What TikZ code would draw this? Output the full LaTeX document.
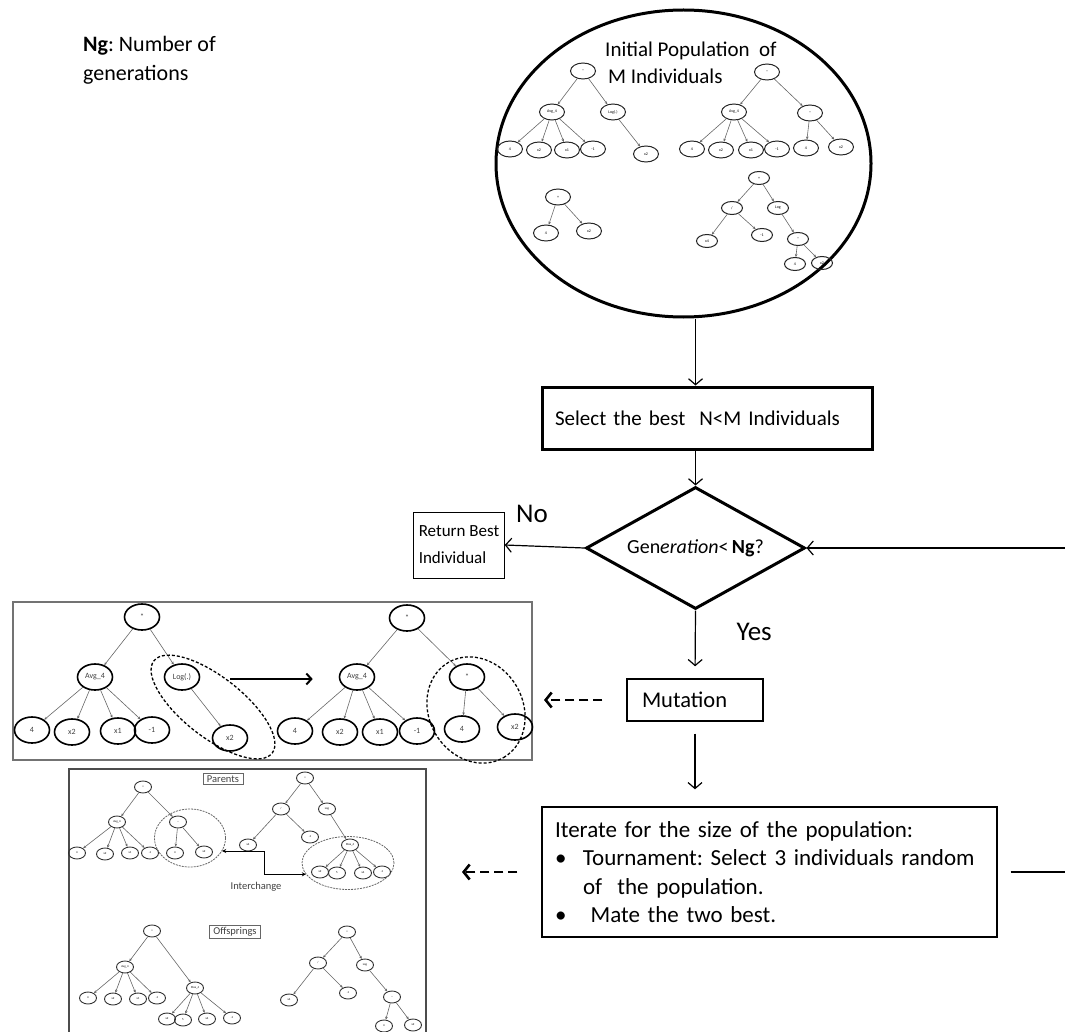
\documentclass[tikz,border=0pt]{standalone}
\usepackage{fontspec}
\setmainfont{Carlito}
\usetikzlibrary{arrows.meta, shapes.geometric, positioning}
\frenchspacing

\begin{document}
\begin{tikzpicture}[
            x=1pt, y=-1pt,
            flow line/.style={line width=1.2pt, -{Straight Barb[length=6pt,width=14pt]}},
            hint line/.style={line width=2.6pt, dash pattern=on 9pt off 5pt, -{Straight Barb[length=6pt,width=15pt]}},
            heavy box/.style={draw, line width=3pt},
            light box/.style={draw, line width=1.4pt},
            main text/.style={font=\fontsize{21}{27}\selectfont},
            pop node/.style={ellipse, draw=black!85, line width=1pt, minimum width=25pt, minimum height=16pt, inner sep=0pt, font=\fontsize{4}{4}\selectfont},
            pop small/.style={pop node, minimum width=21pt, minimum height=13pt},
            mut node/.style={ellipse, draw, line width=1.6pt, minimum width=35pt, minimum height=26pt, inner sep=0pt, font=\fontsize{8}{9}\selectfont, text=black!75},
            xo node/.style={ellipse, draw=black!80, line width=0.9pt, minimum width=17pt, minimum height=12pt, inner sep=0pt, font=\fontsize{3}{3}\selectfont},
            tree edge/.style={draw=black!60, line width=0.6pt, -{Stealth[length=3pt,width=2.6pt]}},
            cut ring/.style={ellipse, draw, line width=1.3pt, dash pattern=on 3pt off 2pt, inner sep=0pt},
            swap ring/.style={ellipse, draw=black!60, line width=0.8pt, dash pattern=on 2pt off 1pt, inner sep=0pt},
            tag box/.style={draw=black!60, line width=0.8pt, inner xsep=4pt, inner ysep=2pt, font=\fontsize{10.5}{11}\selectfont, text=black!75},
        ]

        \useasboundingbox (0,0) rectangle (1065,1032);
        \clip (0,0) rectangle (1065,1032);

        % Legend
        \node[font=\fontsize{22}{29}\selectfont, align=left, anchor=west, inner sep=0pt] (legend) at (83,60) {\textbf{Ng}: Number of\\generations};

        % Initial population
        \node[ellipse, draw, line width=3pt, minimum width=375pt, minimum height=307pt, inner sep=0pt] (pop) at (683.5,163.5) {};
        \node[main text, align=left, anchor=west, inner sep=0pt] (poptitle) at (605,63) {Initial Population\ \ of\\\hspace*{3pt}M Individuals};

        \node[pop node] (pa) at (583,71) {*};
        \node[pop node] (pa1) at (552,112) {Avg\_4};
        \node[pop node] (pa2) at (613,112) {Log(.)};
        \node[pop node] (pa11) at (510,149) {4};
        \node[pop node] (pa12) at (539,150) {x2};
        \node[pop node] (pa13) at (567,150) {x1};
        \node[pop node] (pa14) at (593,149) {-1};
        \node[pop node] (pa21) at (646,154) {x2};

        \node[pop node] (pb) at (767,72) {*};
        \node[pop node] (pb1) at (734,112) {Avg\_4};
        \node[pop node] (pb2) at (810,113) {*};
        \node[pop node] (pb11) at (692,149) {4};
        \node[pop node] (pb12) at (721,150) {x2};
        \node[pop node] (pb13) at (751,150) {x1};
        \node[pop node] (pb14) at (777,149) {-1};
        \node[pop node] (pb21) at (806,148) {4};
        \node[pop node] (pb22) at (841,147) {x2};

        \node[pop node] (pc) at (558,197) {+};
        \node[pop node] (pc1) at (546,233) {4};
        \node[pop node] (pc2) at (589,231) {x2};

        \node[pop small] (pd) at (759,178) {+};
        \node[pop small] (pd1) at (732,208) {/};
        \node[pop small] (pd2) at (778,208) {Log};
        \node[pop small] (pd11) at (707,241) {x4};
        \node[pop small] (pd12) at (762,235) {-1};
        \node[pop small] (pd21) at (798,239) {*};
        \node[pop small] (pd211) at (795,264) {4};
        \node[pop small] (pd212) at (822,263) {x2};

        \foreach \p/\c in {pa/pa1, pa/pa2, pa1/pa11, pa1/pa12, pa1/pa13, pa1/pa14, pa2/pa21,
                pb/pb1, pb/pb2, pb1/pb11, pb1/pb12, pb1/pb13, pb1/pb14, pb2/pb21, pb2/pb22,
                pc/pc1, pc/pc2, pd/pd1, pd/pd2, pd1/pd11, pd1/pd12, pd2/pd21, pd21/pd211, pd21/pd212} {
            \draw[tree edge] (\p) -- (\c);
        }

        % Flow chart
        \node[heavy box, main text, text width=304pt, inner xsep=13pt, minimum height=62pt, align=left] (sel) at (707,418) {Select the best\ \ N<M Individuals};
        \node[diamond, aspect=1.8, draw, line width=3pt, minimum width=219pt, minimum height=122pt, inner sep=0pt, font=\fontsize{20}{24}\selectfont] (dec) at (695.5,548) {Gen\textit{eration}<\,\textbf{Ng}?};
        \node[draw, line width=1pt, minimum width=88pt, inner xsep=5pt, minimum height=66pt, align=left, font=\fontsize{17}{27}\selectfont] (ret) at (459,545) {Return Best\\Individual};
        \node[light box, font=\fontsize{22.5}{26}\selectfont, text width=106pt, inner xsep=15pt, minimum height=42pt, align=left] (mut) at (695,700) {Mutation};
        \node[light box, font=\fontsize{23}{28.5}\selectfont, text width=429pt, inner xsep=13pt, minimum height=130pt, align=left] (itr) at (769.5,872) {Iterate for the size of the population:\\
            \makebox[28pt][l]{\textbullet}Tournament: Select 3 individuals random\\
            \hspace*{28pt}of\ \ the population.\\
            \makebox[28pt][l]{\textbullet}\ Mate the two best.};

        \node[font=\fontsize{27}{30}\selectfont] (nolbl) at (532,514) {No};
        \node[font=\fontsize{27}{30}\selectfont, anchor=west] (yeslbl) at (733,632) {Yes};

        \coordinate (rim) at (1075,0);
        \draw[flow line] (pop.south -| dec) -- (sel.north -| dec);
        \draw[flow line] (sel.south -| dec) -- (dec.north);
        \draw[flow line] (dec.west) -- (ret.east);
        \draw[flow line, shorten >=12pt] (dec.south) -- (mut.north);
        \draw[flow line, shorten <=12pt, shorten >=17pt] (mut.south) -- (itr.north -| mut.south);
        \draw[line width=1.2pt, shorten <=13pt] (itr.east) -- (itr.east -| rim);
        \draw[flow line] (dec.east -| rim) -- (dec.east);

        % Mutation example
        \node[draw=black!55, line width=2pt, minimum width=519pt, minimum height=158pt, inner sep=0pt] (mfig) at (272.5,681) {};

        \node[mut node] (ma) at (142,617) {*};
        \node[mut node] (ma1) at (95,677) {Avg\_4};
        \node[mut node] (ma2) at (182,677) {Log(.)};
        \node[mut node] (ma11) at (32,730) {4};
        \node[mut node] (ma12) at (72,732) {x2};
        \node[mut node] (ma13) at (118,731) {x1};
        \node[mut node] (ma14) at (152,730) {-1};
        \node[mut node] (ma21) at (230,738) {x2};

        \node[mut node] (mb) at (407,618) {*};
        \node[mut node] (mb1) at (357,677) {Avg\_4};
        \node[mut node] (mb2) at (467,677) {*};
        \node[mut node] (mb11) at (295,731) {4};
        \node[mut node] (mb12) at (340,732) {x2};
        \node[mut node] (mb13) at (380,732) {x1};
        \node[mut node] (mb14) at (417,731) {-1};
        \node[mut node] (mb21) at (462,729) {4};
        \node[mut node] (mb22) at (515,727) {x2};

        \foreach \p/\c in {ma/ma1, ma/ma2, ma1/ma11, ma1/ma12, ma1/ma13, ma1/ma14, ma2/ma21,
                mb/mb1, mb/mb2, mb1/mb11, mb1/mb12, mb1/mb13, mb1/mb14, mb2/mb21, mb2/mb22} {
            \draw[tree edge] (\p) -- (\c);
        }

        \node[cut ring, minimum width=150pt, minimum height=60pt, rotate=-38] (cutA) at (213,707) {};
        \node[cut ring, minimum width=110pt, minimum height=94pt, rotate=-60] (cutB) at (476,710) {};

        \coordinate (mgo) at (230,679);
        \draw[line width=2pt, -{Straight Barb[length=5pt,width=11pt]}, shorten >=26pt] (mgo) -- (mb1.west |- mgo);

        \draw[hint line, shorten <=24pt, shorten >=11pt] (mut.west) -- (mfig.east |- mut.west);

        % Crossover example
        \node[draw=black!70, line width=2pt, minimum width=357pt, minimum height=300pt, inner sep=0pt, anchor=north west] (xfig) at (68,768) {};
        \node[tag box] (parents) at (223,779) {Parents};
        \node[tag box] (offspr) at (235,932) {Offsprings};

        \node[xo node] (xa) at (143,787) {+};
        \node[xo node] (xa1) at (117,822) {Avg\_4};
        \node[xo node] (xa2) at (178,822) {*};
        \node[xo node] (xa11) at (77,853) {4};
        \node[xo node] (xa12) at (105,854) {x2};
        \node[xo node] (xa13) at (130,853) {x1};
        \node[xo node] (xa14) at (150,853) {-1};
        \node[xo node] (xa21) at (175,853) {4};
        \node[xo node] (xa22) at (204,852) {x2};

        \node[xo node] (xb) at (305,778) {+};
        \node[xo node] (xb1) at (281,809) {/};
        \node[xo node] (xb2) at (327,809) {Log};
        \node[xo node] (xb11) at (248,845) {x4};
        \node[xo node] (xb12) at (310,837) {-1};
        \node[xo node] (xb21) at (350,845) {Max\_4};
        \node[xo node] (xb211) at (320,872) {x2};
        \node[xo node] (xb212) at (337,873) {5};
        \node[xo node] (xb213) at (363,873) {x4};
        \node[xo node] (xb214) at (382,872) {-1};

        \node[xo node] (ya) at (152,931) {+};
        \node[xo node] (ya1) at (125,967) {Avg\_4};
        \node[xo node] (ya2) at (195,988) {Max\_4};
        \node[xo node] (ya11) at (88,998) {4};
        \node[xo node] (ya12) at (113,999) {x2};
        \node[xo node] (ya13) at (138,999) {x1};
        \node[xo node] (ya14) at (157,998) {-1};
        \node[xo node] (ya21) at (167,1019) {x2};
        \node[xo node] (ya22) at (183,1020) {5};
        \node[xo node] (ya23) at (207,1019) {x4};
        \node[xo node] (ya24) at (232,1018) {-1};

        \node[xo node] (yb) at (347,932) {+};
        \node[xo node] (yb1) at (318,963) {/};
        \node[xo node] (yb2) at (365,965) {Log};
        \node[xo node] (yb11) at (289,1000) {x4};
        \node[xo node] (yb12) at (348,993) {-1};
        \node[xo node] (yb21) at (392,997) {*};
        \node[xo node] (yb211) at (384,1026) {4};
        \node[xo node] (yb212) at (413,1025) {x2};

        \foreach \p/\c in {xa/xa1, xa/xa2, xa1/xa11, xa1/xa12, xa1/xa13, xa1/xa14, xa2/xa21, xa2/xa22,
                xb/xb1, xb/xb2, xb1/xb11, xb1/xb12, xb2/xb21, xb21/xb211, xb21/xb212, xb21/xb213, xb21/xb214,
                ya/ya1, ya/ya2, ya1/ya11, ya1/ya12, ya1/ya13, ya1/ya14, ya2/ya21, ya2/ya22, ya2/ya23, ya2/ya24,
                yb/yb1, yb/yb2, yb1/yb11, yb1/yb12, yb2/yb21, yb21/yb211, yb21/yb212} {
            \draw[tree edge] (\p) -- (\c);
        }

        \node[swap ring, minimum width=71pt, minimum height=58pt] (ringL) at (190,838) {};
        \node[swap ring, minimum width=92pt, minimum height=53pt] (ringR) at (348,863) {};
        \draw[line width=0.9pt, {Stealth[length=4pt,width=4pt]}-{Stealth[length=4pt,width=4pt]}] (ringL.-22) -- ++(42,0) |- (ringR.195);
        \node[font=\fontsize{10.5}{11}\selectfont, text=black!75] (swaplbl) at (256,887) {Interchange};

        \draw[hint line, shorten <=24pt, shorten >=35pt] (itr.west) -- (xfig.east |- itr.west);

\end{tikzpicture}
\end{document}
